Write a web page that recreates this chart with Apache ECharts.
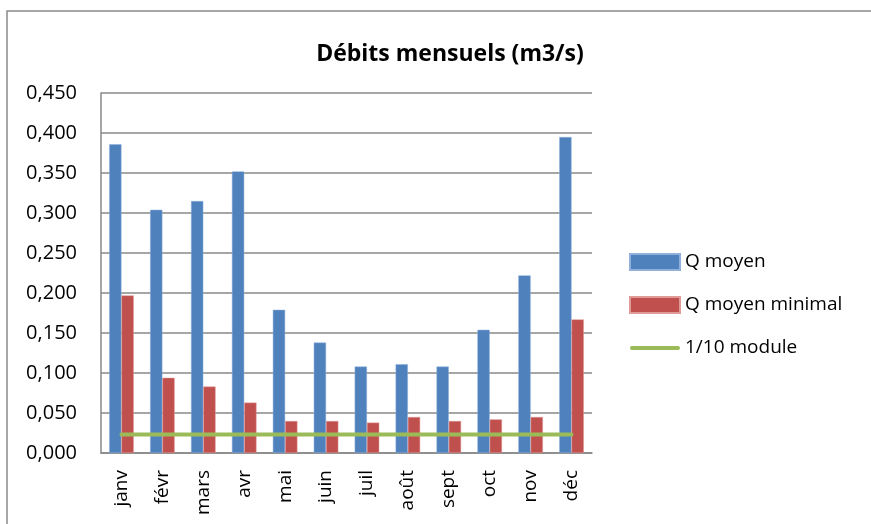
<!DOCTYPE html>
<html><head><meta charset="utf-8">
<script src="https://cdn.jsdelivr.net/npm/echarts@6/dist/echarts.min.js"></script>
<style>html,body{margin:0;padding:0;background:#fff}#c{width:871px;height:524px}</style>
</head><body><div id="c"></div>
<script>
var months = ['janv','févr','mars','avr','mai','juin','juil','août','sept','oct','nov','déc'];
var qMoyen = [0.386,0.304,0.315,0.352,0.179,0.138,0.108,0.111,0.108,0.154,0.222,0.395];
var qMoyenMin = [0.197,0.094,0.083,0.063,0.040,0.040,0.038,0.045,0.040,0.042,0.045,0.167];
var module10 = [0.023,0.023,0.023,0.023,0.023,0.023,0.023,0.023,0.023,0.023,0.023,0.023];
var FONT = '"Open Sans", sans-serif';
var chart = echarts.init(document.getElementById('c'));
chart.setOption({
  animation:false,
  backgroundColor:'#fff',
  graphic:[{type:'rect',shape:{x:7,y:11,width:900,height:600},style:{fill:'none',stroke:'#8a8a8a',lineWidth:1.5},silent:true}],
  title:{text:'Débits mensuels (m3/s)',left:445,top:38,textAlign:'center',
    textStyle:{fontFamily:FONT,fontWeight:'bold',fontSize:23,color:'#000'}},
  grid:{left:101,right:279,top:93,bottom:71,containLabel:false},
  legend:{orient:'vertical',left:624,top:247,itemWidth:50,itemHeight:16,itemGap:23,
    textStyle:{fontFamily:FONT,fontSize:19,color:'#000',lineHeight:20},
    data:[
      {name:'Q moyen',icon:'rect'},
      {name:'Q moyen minimal',icon:'rect'},
      {name:'1/10 module',icon:'path://M0,0 L0,0.01 M1,6 L49,6 A2,2 0 0 1 49,10 L1,10 A2,2 0 0 1 1,6 Z M50,16 L50,15.99'}
    ]},
  xAxis:{type:'category',data:months,
    axisLine:{lineStyle:{color:'#888',width:1.5}},axisTick:{show:false},
    axisLabel:{rotate:90,margin:17,fontFamily:FONT,fontSize:19,color:'#000',interval:0}},
  yAxis:{type:'value',min:0,max:0.45,interval:0.05,
    axisLine:{show:true,lineStyle:{color:'#888',width:1.5}},axisTick:{show:false},
    splitLine:{lineStyle:{color:'#888',width:1.5}},
    axisLabel:{margin:24,fontFamily:FONT,fontSize:20,color:'#000',
      formatter:function(v){return v.toFixed(3).replace('.',',');}}},
  series:[
    {name:'Q moyen',type:'bar',data:qMoyen,barGap:'0%',barCategoryGap:'40%',
      itemStyle:{color:'#4F81BD',borderColor:'#8fb0dc',borderWidth:0.5}},
    {name:'Q moyen minimal',type:'bar',data:qMoyenMin,
      itemStyle:{color:'#C0504D',borderColor:'#e09a98',borderWidth:0.5}},
    {name:'1/10 module',type:'line',data:module10,symbol:'none',
      lineStyle:{color:'#9BBB59',width:4,cap:'round'},itemStyle:{color:'#9BBB59'}}
  ]
});
</script></body></html>
